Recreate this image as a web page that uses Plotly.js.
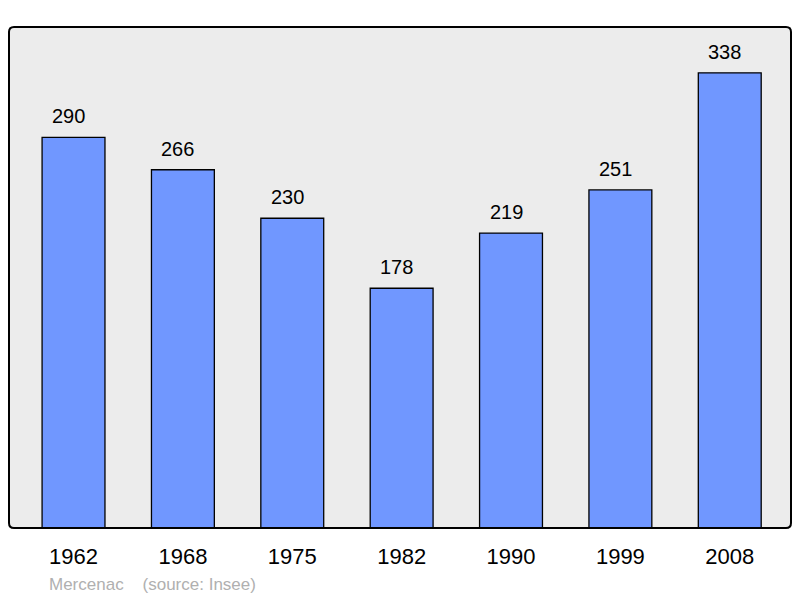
<!DOCTYPE html>
<html><head><meta charset="utf-8">
<script src="https://cdn.plot.ly/plotly-3.0.1.min.js"></script>
<style>html,body{margin:0;padding:0;background:#fff;}#chart{width:800px;height:598px;}</style>
</head><body><div id="chart"></div>
<script>
const years = ["1962","1968","1975","1982","1990","1999","2008"];
const population = [290,266,230,178,219,251,338];
const commune = "Mercenac";
const source = "(source: Insee)";

const W = 800, H = 598, L = 9, R = 9, T = 27, B = 70;
const pw = W - L - R, ph = H - T - B;
const rx = 5 / pw, ry = 5 / ph;
const roundedPath = `M ${rx} 0 L ${1-rx} 0 Q 1 0 1 ${ry} L 1 ${1-ry} Q 1 1 ${1-rx} 1 L ${rx} 1 Q 0 1 0 ${1-ry} L 0 ${ry} Q 0 0 ${rx} 0 Z`;

const trace = {
  type: 'bar', x: years, y: population,
  width: 0.575,
  marker: {color: '#7097ff', line: {color: '#000', width: 1.3}},
  hoverinfo: 'none'
};
const annotations = years.map((yr, i) => ({
  x: i, y: population[i], xref: 'x', yref: 'y',
  text: String(population[i]), showarrow: false,
  yanchor: 'bottom', yshift: 8, xshift: -5,
  font: {family: 'Liberation Sans, Arial, sans-serif', size: 20, color: '#000'}
}));
annotations.push({
  xref: 'paper', yref: 'paper', x: (47 - L) / pw, y: -(584 - T - ph) / ph,
  xanchor: 'left', yanchor: 'middle', showarrow: false,
  text: commune + '&nbsp;&nbsp;&nbsp;&nbsp;' + source,
  font: {family: 'Liberation Sans, Arial, sans-serif', size: 17, color: '#b0b0b0'}
});

const layout = {
  width: W, height: H,
  margin: {l: L, r: R, t: T, b: B, pad: 0},
  paper_bgcolor: '#fff', plot_bgcolor: '#ececec',
  showlegend: false,
  xaxis: {
    type: 'category', range: [-0.59, 6.56], showgrid: false, zeroline: false,
    showline: false, ticks: '', ticklabelstandoff: 13,
    tickfont: {family: 'Liberation Sans, Arial, sans-serif', size: 22, color: '#000'},
    fixedrange: true
  },
  yaxis: {
    range: [0, 372], showgrid: false, zeroline: false, showline: false,
    showticklabels: false, ticks: '', fixedrange: true
  },
  shapes: [{
    type: 'path', xref: 'paper', yref: 'paper', path: roundedPath,
    line: {color: '#000', width: 2}, fillcolor: 'rgba(0,0,0,0)', layer: 'above'
  }],
  annotations: annotations
};
Plotly.newPlot('chart', [trace], layout, {staticPlot: true, displayModeBar: false});
</script></body></html>
